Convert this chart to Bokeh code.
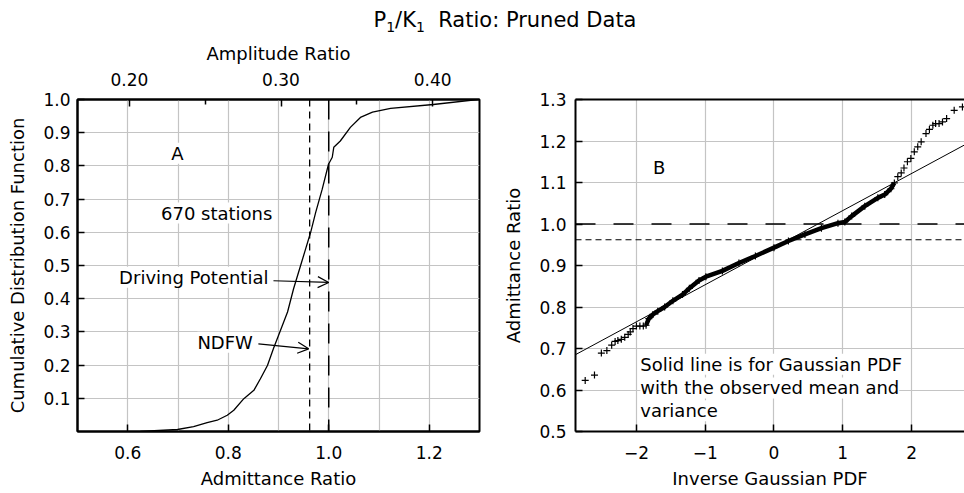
from bokeh.plotting import figure
from bokeh.models import (Range1d, LinearAxis, FixedTicker, Label, Arrow, OpenHead,
                          Span, Div, NumeralTickFormatter)
from bokeh.layouts import column, row
from bokeh.embed import file_html
from bokeh.resources import INLINE

# ---------------- data ----------------
# Panel A: empirical CDF of admittance ratio (670 stations)
cdf_x = [0.625, 0.699, 0.731, 0.758, 0.778, 0.798, 0.811, 0.831, 0.851, 0.864, 0.878,
         0.890, 0.900, 0.918, 0.930, 0.944, 0.954, 0.964, 0.974, 0.987, 0.9995, 1.007,
         1.010, 1.023, 1.043, 1.063, 1.087, 1.123, 1.208, 1.296]
cdf_y = [0.0, 0.006, 0.015, 0.027, 0.034, 0.049, 0.064, 0.099, 0.124, 0.159, 0.199,
         0.25, 0.289, 0.36, 0.43, 0.50, 0.55, 0.60, 0.66, 0.73, 0.805, 0.826,
         0.856, 0.875, 0.916, 0.946, 0.962, 0.973, 0.985, 1.0]
amp_per_admittance = 0.3315
ndfw_ratio = 0.962
driving_ratio = 1.0

# Panel B: sorted admittance ratio vs inverse Gaussian PDF
qq_x = [-2.745, -2.61, -2.51, -2.43, -2.36, -2.31, -2.27, -2.22, -2.17, -2.12, -2.09,
        -2.05, -2.00, -1.95, -1.90, -1.86, -1.82, -1.76, -1.69, -1.59, -1.47, -1.33,
        -1.23, -1.09, -0.99, -0.75, -0.51, -0.27, 0.0, 0.21, 0.45, 0.69, 0.93, 1.03,
        1.13, 1.32, 1.51, 1.61, 1.70, 1.75, 1.80, 1.85, 1.89, 1.94, 1.99, 2.04, 2.09,
        2.14, 2.21, 2.26, 2.31, 2.35, 2.40, 2.45, 2.51, 2.62, 2.74]
qq_y = [0.623, 0.636, 0.689, 0.695, 0.708, 0.717, 0.719, 0.722, 0.727, 0.734, 0.740,
        0.748, 0.754, 0.754, 0.754, 0.756, 0.772, 0.782, 0.790, 0.800, 0.815, 0.830,
        0.845, 0.864, 0.873, 0.887, 0.906, 0.923, 0.943, 0.959, 0.975, 0.990, 1.002, 1.005,
        1.019, 1.043, 1.063, 1.071, 1.085, 1.099, 1.114, 1.123, 1.135, 1.150, 1.158, 1.174, 1.186,
        1.198, 1.218, 1.228, 1.238, 1.242, 1.242, 1.246, 1.254, 1.274, 1.282]
dense_lo, dense_hi = -1.87, 1.78
fit_x = [-3.0, 3.0]
fit_y = [0.675, 1.211]

# annotation anchors (data units)
arrow_dp = [0.890, 0.454, 1.0, 0.449]
arrow_nd = [0.860, 0.264, 0.960, 0.249]

FONT = "DejaVu Sans"
GRID = "#c4c4c4"
TICK_SIZE = "17px"
LABEL_SIZE = "18px"
TEXT_SIZE = "18px"


def style_axis(ax, ticks, fmt=None):
    ax.ticker = FixedTicker(ticks=ticks)
    ax.axis_line_width = 2
    ax.axis_line_color = "black"
    ax.major_tick_in = 7
    ax.major_tick_out = 0
    ax.major_tick_line_width = 1.5
    ax.major_tick_line_color = "black"
    ax.minor_tick_line_color = None
    ax.major_label_text_font = FONT
    ax.major_label_text_font_size = TICK_SIZE
    ax.major_label_text_color = "black"
    ax.axis_label_text_font = FONT
    ax.axis_label_text_font_size = LABEL_SIZE
    ax.axis_label_text_font_style = "normal"
    ax.axis_label_text_color = "black"
    if fmt:
        ax.formatter = NumeralTickFormatter(format=fmt)


TOP_B, BOT_B, FIG_H = 65, 61, 458

# ---------------- Panel A ----------------
p1 = figure(width=500, height=FIG_H, output_backend="svg", toolbar_location=None,
            x_range=Range1d(0.5, 1.3), y_range=Range1d(0.0, 1.0),
            min_border_left=77, min_border_right=21, min_border_top=TOP_B,
            min_border_bottom=BOT_B)
p1.outline_line_color = "black"
p1.outline_line_width = 2
p1.background_fill_color = "white"
p1.border_fill_color = "white"

style_axis(p1.xaxis[0], [0.6, 0.8, 1.0, 1.2], "0.0")
p1.xaxis[0].axis_label = "Admittance Ratio"
p1.xaxis[0].major_label_standoff = 14
p1.xaxis[0].axis_label_standoff = 6
style_axis(p1.yaxis[0], [0.1, 0.2, 0.3, 0.4, 0.5, 0.6, 0.7, 0.8, 0.9, 1.0], "0.0")
p1.yaxis[0].axis_label = "Cumulative Distribution Function"
p1.yaxis[0].major_label_standoff = 7
p1.yaxis[0].axis_label_standoff = 12

p1.extra_x_ranges = {"amp": Range1d(0.5 * amp_per_admittance, 1.3 * amp_per_admittance)}
top = LinearAxis(x_range_name="amp", axis_label="Amplitude Ratio")
style_axis(top, [0.20, 0.30, 0.40], "0.00")
top.ticker = FixedTicker(ticks=[0.20, 0.30, 0.40], minor_ticks=[0.25, 0.35])
top.minor_tick_line_color = "black"
top.minor_tick_line_width = 1.5
top.minor_tick_in = 5
top.minor_tick_out = 0
top.major_label_standoff = 14
top.axis_label_standoff = 6
p1.add_layout(top, "above")

p1.xgrid.ticker = FixedTicker(ticks=[0.6, 0.7, 0.8, 0.9, 1.0, 1.1, 1.2])
p1.ygrid.ticker = FixedTicker(ticks=[0.1, 0.2, 0.3, 0.4, 0.5, 0.6, 0.7, 0.8, 0.9])
for g in (p1.xgrid[0], p1.ygrid[0]):
    g.grid_line_color = GRID
    g.grid_line_width = 1.2

p1.add_layout(Span(location=ndfw_ratio, dimension="height", line_color="black",
                   line_width=1.3, line_dash="7 5"))
p1.add_layout(Span(location=driving_ratio, dimension="height", line_color="black",
                   line_width=1.5, line_dash="20 12"))
p1.line(cdf_x, cdf_y, line_color="black", line_width=1.3)

for txt, x, y, al in [("A", 0.699, 0.838, "center"),
                      ("670 stations", 0.777, 0.658, "center"),
                      ("Driving Potential", 0.880, 0.4645, "right"),
                      ("NDFW", 0.849, 0.269, "right")]:
    p1.add_layout(Label(x=x, y=y, text=txt, text_align=al, text_baseline="middle",
                        text_font=FONT, text_font_size=TEXT_SIZE, text_color="black",
                        background_fill_color="white"))
for a in (arrow_dp, arrow_nd):
    p1.add_layout(Arrow(x_start=a[0], y_start=a[1], x_end=a[2], y_end=a[3],
                        line_width=1.2, line_color="black",
                        end=OpenHead(size=11, line_width=1.2, line_color="black")))

# ---------------- Panel B ----------------
p2 = figure(width=464, height=FIG_H, output_backend="svg", toolbar_location=None,
            x_range=Range1d(-2.886, 2.77), y_range=Range1d(0.5, 1.3),
            min_border_left=72, min_border_right=0, min_border_top=TOP_B,
            min_border_bottom=BOT_B)
p2.outline_line_color = None
p2.background_fill_color = "white"
p2.border_fill_color = "white"

style_axis(p2.xaxis[0], [-2, -1, 0, 1, 2])
p2.xaxis[0].major_label_overrides = {-2: "\u22122", -1: "\u22121", 0: "0", 1: "1", 2: "2"}
p2.xaxis[0].axis_label = "Inverse Gaussian PDF"
p2.xaxis[0].major_label_standoff = 14
p2.xaxis[0].axis_label_standoff = 6
style_axis(p2.yaxis[0], [0.5, 0.6, 0.7, 0.8, 0.9, 1.0, 1.1, 1.2, 1.3], "0.0")
p2.yaxis[0].axis_label = "Admittance Ratio"
p2.yaxis[0].major_label_standoff = 9
p2.yaxis[0].axis_label_standoff = 12

top2 = LinearAxis()
top2.ticker = FixedTicker(ticks=[])
top2.axis_line_width = 2
top2.axis_line_color = "black"
top2.major_tick_line_color = None
top2.minor_tick_line_color = None
p2.add_layout(top2, "above")

p2.xgrid.ticker = FixedTicker(ticks=[-2, -1, 0, 1, 2])
p2.ygrid.ticker = FixedTicker(ticks=[0.6, 0.7, 0.8, 0.9, 1.0, 1.1, 1.2])
for g in (p2.xgrid[0], p2.ygrid[0]):
    g.grid_line_color = GRID
    g.grid_line_width = 1.2

p2.add_layout(Span(location=driving_ratio, dimension="width", line_color="black",
                   line_width=1.5, line_dash="20 18"))
p2.add_layout(Span(location=ndfw_ratio, dimension="width", line_color="black",
                   line_width=1.2, line_dash="6 4"))
p2.line(fit_x, fit_y, line_color="black", line_width=1)

band = [(x, y) for x, y in zip(qq_x, qq_y) if dense_lo <= x <= dense_hi]
p2.line([b[0] for b in band], [b[1] for b in band], line_color="black", line_width=4.5)
p2.scatter(qq_x, qq_y, marker="cross", size=7, line_color="black", line_width=1.2)

p2.add_layout(Label(x=-1.67, y=1.137, text="B", text_align="center", text_baseline="middle",
                    text_font=FONT, text_font_size=TEXT_SIZE, text_color="black"))
for txt, y in [("Solid line is for Gaussian PDF", 0.662),
               ("with the observed mean and", 0.605),
               ("variance", 0.550)]:
    p2.add_layout(Label(x=-1.944, y=y, text=txt, text_align="left", text_baseline="middle",
                        text_font=FONT, text_font_size=TEXT_SIZE, text_color="black",
                        background_fill_color="white"))

title = Div(text='<div style="box-sizing:border-box;width:964px;padding-left:46px;padding-top:7px;'
                 'text-align:center;font-family:\'DejaVu Sans\';font-size:21px;'
                 'line-height:26px;color:black;">'
                 'P<sub style="font-size:14px;">1</sub>/K<sub style="font-size:14px;">1</sub>'
                 '&nbsp; Ratio: Pruned Data</div>',
            width=964, height=34, margin=0)

layout = column(title, row(p1, p2))
open("out.html", "w").write(file_html(layout, INLINE))
